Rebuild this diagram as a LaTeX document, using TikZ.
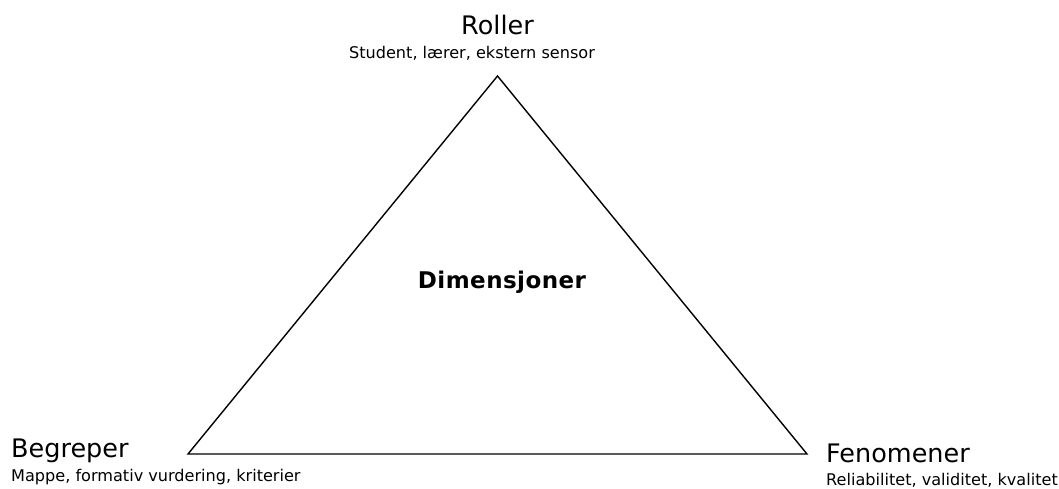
\documentclass[tikz,border=0pt]{standalone}
\usepackage{fontspec}
\setmainfont{DejaVu Sans}
\newfontfamily\centerfont[LetterSpace=2]{DejaVu Sans}
\usetikzlibrary{positioning}
\tikzset{
  corner/.style={inner sep=0pt,anchor=base west,font=\fontsize{25.5}{30}\selectfont},
  cornersub/.style={inner sep=0pt,anchor=base west,font=\fontsize{16.1}{19}\selectfont},
  centerlabel/.style={inner sep=0pt,anchor=base,font=\centerfont\bfseries\fontsize{23}{27}\selectfont},
  edge/.style={line width=1.4pt,line join=miter},
}

\begin{document}
\begin{tikzpicture}[x=1pt,y=-1pt]
  \useasboundingbox (0,0) rectangle (1059,488);
  % ── Triangle ──
  \coordinate (apex) at (497.5,76);
  \coordinate (west) at (188,454);
  \coordinate (east) at (807,454);
  \draw[edge] (apex) -- (east) -- (west) -- cycle;

  % ── Labels ──
  \node[centerlabel] (dim) at (502,288.5) {Dimensjoner};
  \node[corner, anchor=base] (roller) at (497.5,34) {Roller};
  \node[cornersub, anchor=base] (rollersub) at (472,58.3) {Student, lærer, ekstern sensor};
  \node[corner] (begreper) at (11,457.3) {Begreper};
  \node[cornersub] (begrepersub) at (11,481.7) {Mappe, formativ vurdering, kriterier};
  \node[corner] (fenomener) at (826,462.7) {Fenomener};
  \node[cornersub] (fenomenersub) at (826,485) {Reliabilitet, validitet, kvalitet};
\end{tikzpicture}
\end{document}
